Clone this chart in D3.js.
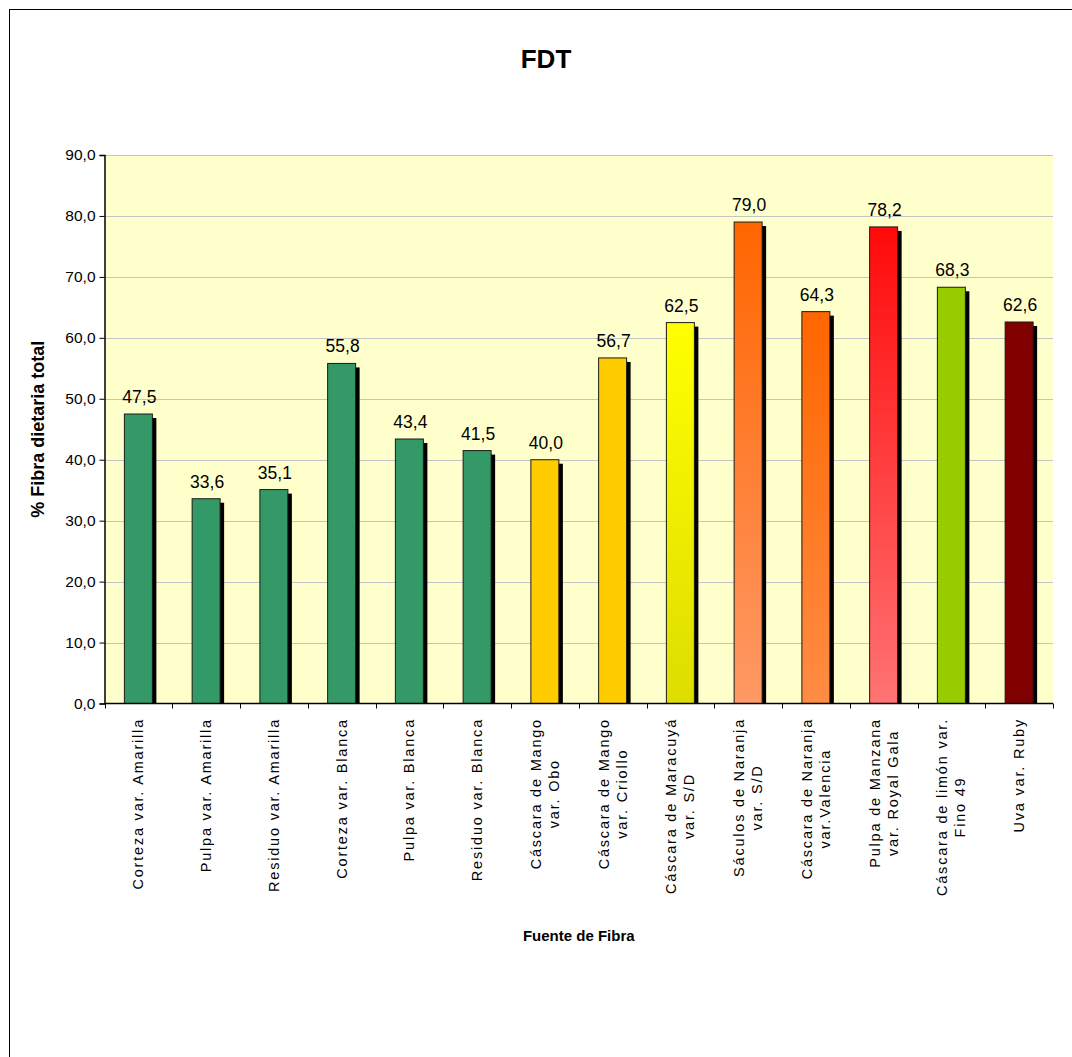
<!DOCTYPE html>
<html>
<head>
<meta charset="utf-8">
<script src="https://cdn.jsdelivr.net/npm/d3@7"></script>
<style>
  html, body { margin: 0; padding: 0; background: #fff; }
  text { font-family: "Liberation Sans", Arial, sans-serif; }
</style>
</head>
<body>
<svg id="chart" width="1072" height="1057"></svg>
<script>
// ---- data ----
const categories = [
  ["Corteza var. Amarilla"],
  ["Pulpa var. Amarilla"],
  ["Residuo var. Amarilla"],
  ["Corteza var. Blanca"],
  ["Pulpa var. Blanca"],
  ["Residuo var. Blanca"],
  ["Cáscara de Mango", "var. Obo"],
  ["Cáscara de Mango", "var. Criollo"],
  ["Cáscara de Maracuyá", "var. S/D"],
  ["Sáculos de Naranja", "var. S/D"],
  ["Cáscara de Naranja", "var.Valencia"],
  ["Pulpa de Manzana", "var. Royal Gala"],
  ["Cáscara de limón var.", "Fino 49"],
  ["Uva var. Ruby"]
];
const values = [47.5, 33.6, 35.1, 55.8, 43.4, 41.5, 40.0, 56.7, 62.5, 79.0, 64.3, 78.2, 68.3, 62.6];
const yTicks = [0, 10, 20, 30, 40, 50, 60, 70, 80, 90];
const barTopColors    = ["#339966","#339966","#339966","#339966","#339966","#339966","#ffcc00","#ffcc00","#ffff00","#ff6600","#ff6600","#ff0a0a","#99cc00","#800000"];
const barBottomColors = ["#339966","#339966","#339966","#339966","#339966","#339966","#ffcc00","#ffcc00","#dddd00","#ff9966","#ff8c44","#ff7373","#99cc00","#800000"];
const titleText = "FDT";
const yTitle = "% Fibra dietaria total";
const xTitle = "Fuente de Fibra";

// ---- layout ----
const svg = d3.select("#chart");
const W = 1072, H = 1057;
const plot = { left: 104.5, right: 1053, top: 155, bottom: 703.5 };
const keys = categories.map((c, i) => i);

const x = d3.scaleBand().domain(keys).range([plot.left, plot.right]).paddingInner(0).paddingOuter(0);
const y = d3.scaleLinear().domain([0, 90]).range([plot.bottom, plot.top]);
const barW = 28;
const fmt = v => d3.format(".1f")(v).replace(".", ",");

svg.append("rect").attr("x", 0).attr("y", 0).attr("width", W).attr("height", H).attr("fill", "#fff");
svg.append("rect").attr("x", 9.5).attr("y", 9.5).attr("width", 1100).attr("height", 1100)
  .attr("fill", "none").attr("stroke", "#000").attr("stroke-width", 1);

// gradients
const defs = svg.append("defs");
keys.forEach(i => {
  const g = defs.append("linearGradient").attr("id", "grad" + i)
    .attr("x1", 0).attr("y1", 0).attr("x2", 0).attr("y2", 1);
  g.append("stop").attr("offset", "0%").attr("stop-color", barTopColors[i]);
  g.append("stop").attr("offset", "100%").attr("stop-color", barBottomColors[i]);
});

// plot background
svg.append("rect").attr("x", plot.left).attr("y", plot.top)
  .attr("width", plot.right - plot.left).attr("height", plot.bottom - plot.top)
  .attr("fill", "#ffffcc");

// gridlines
svg.append("g").selectAll("line").data(yTicks.filter(t => t > 0)).join("line")
  .attr("x1", plot.left).attr("x2", plot.right)
  .attr("y1", d => Math.round(y(d)) + 0.5).attr("y2", d => Math.round(y(d)) + 0.5)
  .attr("stroke", "#c4c4c4").attr("stroke-width", 1);

// bars: shadow then bar
const bars = svg.append("g");
bars.selectAll("rect.shadow").data(keys).join("rect").attr("class", "shadow")
  .attr("x", i => x(i) + x.bandwidth() / 2 - barW / 2 + 4)
  .attr("y", i => y(values[i]) + 4)
  .attr("width", barW)
  .attr("height", i => y(0) - y(values[i]) - 4)
  .attr("fill", "#000");
bars.selectAll("rect.bar").data(keys).join("rect").attr("class", "bar")
  .attr("x", i => x(i) + x.bandwidth() / 2 - barW / 2)
  .attr("y", i => y(values[i]))
  .attr("width", barW)
  .attr("height", i => y(0) - y(values[i]))
  .attr("fill", i => `url(#grad${i})`)
  .attr("stroke", "#1a1a1a").attr("stroke-width", 1);

// value labels
svg.append("g").selectAll("text").data(keys).join("text")
  .attr("x", i => x(i) + x.bandwidth() / 2 + 1)
  .attr("y", i => y(values[i]) - 11)
  .attr("text-anchor", "middle")
  .attr("font-size", 17.5)
  .attr("fill", "#000")
  .text(i => fmt(values[i]));

// y axis
const yAxis = d3.axisLeft(y).tickValues(yTicks).tickSize(5).tickPadding(4).tickFormat(fmt);
const gy = svg.append("g").attr("transform", `translate(${plot.left},0)`).call(yAxis);
gy.select(".domain").attr("stroke", "#000").attr("stroke-width", 1.5);
gy.selectAll(".tick line").attr("stroke", "#000");
gy.selectAll(".tick text").attr("font-size", 15.5).attr("fill", "#000")
  .attr("font-family", "'Liberation Sans', Arial, sans-serif");

// x axis line + ticks at band boundaries
const boundaries = keys.map(i => x(i)).concat([plot.right]);
svg.append("line").attr("x1", plot.left).attr("x2", plot.right)
  .attr("y1", plot.bottom).attr("y2", plot.bottom).attr("stroke", "#000").attr("stroke-width", 1.5);
svg.append("g").selectAll("line").data(boundaries).join("line")
  .attr("x1", d => Math.round(d) + 0.5).attr("x2", d => Math.round(d) + 0.5)
  .attr("y1", plot.bottom).attr("y2", plot.bottom + 5).attr("stroke", "#000");

// x category labels (rotated)
const labelTop = 718;
const lineGap = 18;
const xl = svg.append("g");
keys.forEach(i => {
  const lines = categories[i];
  const cx = x(i) + x.bandwidth() / 2;
  const g = xl.append("g").attr("transform", `translate(${cx},${labelTop}) rotate(-90)`);
  const texts = lines.map((ln, k) => g.append("text")
    .attr("font-size", 14.5)
    .attr("letter-spacing", "1.8px")
    .attr("fill", "#000")
    .attr("dominant-baseline", "central")
    .attr("text-anchor", "middle")
    .attr("y", (k - (lines.length - 1) / 2) * lineGap)
    .text(ln));
  const maxLen = d3.max(texts, t => t.node().getComputedTextLength());
  texts.forEach(t => t.attr("x", -maxLen / 2));
});

// titles
svg.append("text").attr("x", 546).attr("y", 68).attr("text-anchor", "middle")
  .attr("font-size", 26).attr("font-weight", "bold").text(titleText);
svg.append("text")
  .attr("transform", `translate(44,${(plot.top + plot.bottom) / 2}) rotate(-90)`)
  .attr("text-anchor", "middle").attr("font-size", 18).attr("font-weight", "bold").text(yTitle);
svg.append("text").attr("x", (plot.left + plot.right) / 2).attr("y", 941)
  .attr("text-anchor", "middle").attr("font-size", 15).attr("font-weight", "bold").text(xTitle);
</script>
</body>
</html>
